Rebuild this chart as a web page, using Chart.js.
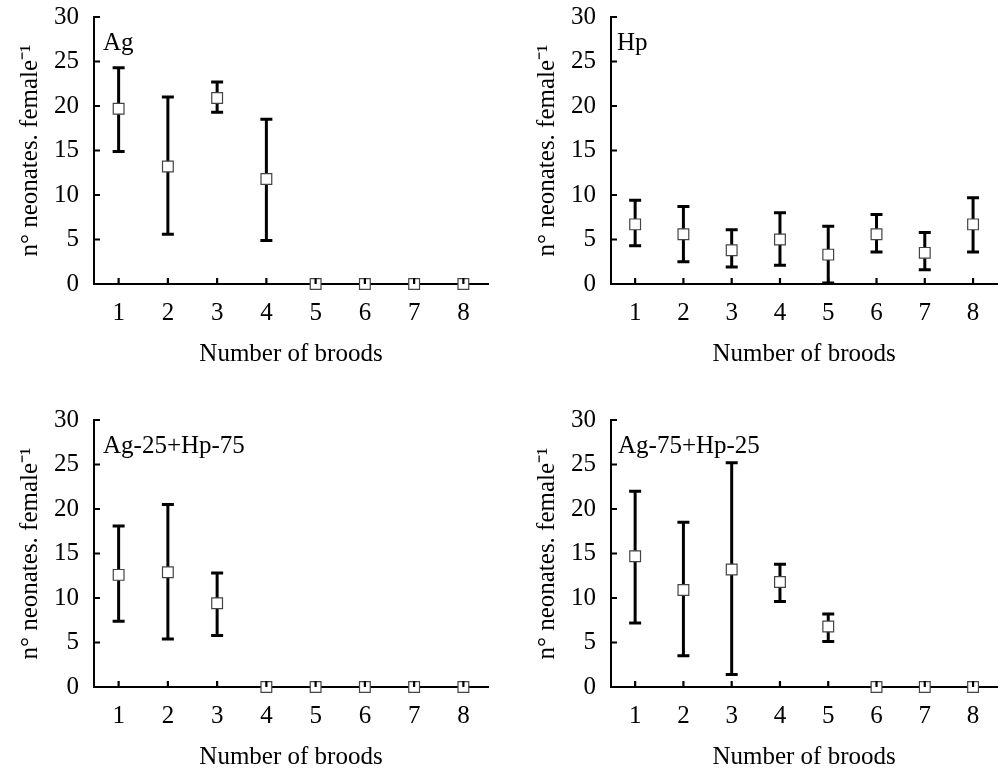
<!DOCTYPE html>
<html>
<head>
<meta charset="utf-8">
<script src="https://cdn.jsdelivr.net/npm/chart.js@4"></script>
<style>
  html, body { margin: 0; padding: 0; background: #fff; overflow: hidden; }
  #wrap { position: relative; width: 1006px; height: 770px; }
  canvas { position: absolute; }
</style>
</head>
<body>
<div id="wrap">
  <canvas id="pAg" width="500" height="385" style="left:0;top:0"></canvas>
  <canvas id="pHp" width="489" height="385" style="left:517px;top:0"></canvas>
  <canvas id="pMix1" width="500" height="385" style="left:0;top:403px"></canvas>
  <canvas id="pMix2" width="489" height="385" style="left:517px;top:403px"></canvas>
</div>
<script>
// dados
const broods = ['1', '2', '3', '4', '5', '6', '7', '8'];
const yTicks = [0, 5, 10, 15, 20, 25, 30];

const agMean = [19.7, 13.2, 20.9, 11.8, 0, 0, 0, 0];
const agLow  = [14.9, 5.6, 19.3, 4.9, null, null, null, null];
const agHigh = [24.3, 21.0, 22.7, 18.5, null, null, null, null];

const hpMean = [6.7, 5.6, 3.8, 5.0, 3.3, 5.6, 3.5, 6.7];
const hpLow  = [4.3, 2.5, 1.9, 2.1, 0.1, 3.6, 1.6, 3.6];
const hpHigh = [9.4, 8.7, 6.1, 8.0, 6.5, 7.8, 5.8, 9.7];

const mix1Mean = [12.6, 12.9, 9.4, 0, 0, 0, 0, 0];
const mix1Low  = [7.4, 5.4, 5.8, null, null, null, null, null];
const mix1High = [18.1, 20.5, 12.8, null, null, null, null, null];

const mix2Mean = [14.7, 10.9, 13.2, 11.8, 6.8, 0, 0, 0];
const mix2Low  = [7.2, 3.5, 1.4, 9.6, 5.1, null, null, null];
const mix2High = [22.0, 18.5, 25.2, 13.8, 8.2, null, null, null];

const serif = "'Liberation Serif', 'Times New Roman', serif";

// barras de erro, marcas dos eixos e rotulo do painel
const errBars = {
  id: 'errBars',
  beforeDatasetsDraw(chart, args, opts) {
    const ctx = chart.ctx;
    const x = chart.scales.x, y = chart.scales.y;
    ctx.save();
    ctx.strokeStyle = '#000';
    ctx.lineWidth = 3;
    opts.low.forEach((lo, i) => {
      const hi = opts.high[i];
      if (lo == null || hi == null) return;
      const px = x.getPixelForValue(i);
      const y1 = y.getPixelForValue(lo), y2 = y.getPixelForValue(hi);
      ctx.beginPath();
      ctx.moveTo(px, y1); ctx.lineTo(px, y2);
      ctx.moveTo(px - 6, y1); ctx.lineTo(px + 6, y1);
      ctx.moveTo(px - 6, y2); ctx.lineTo(px + 6, y2);
      ctx.stroke();
    });
    ctx.restore();
  },
  afterDatasetsDraw(chart, args, opts) {
    const ctx = chart.ctx;
    const x = chart.scales.x, y = chart.scales.y;
    const area = chart.chartArea;
    ctx.save();
    ctx.strokeStyle = '#000';
    ctx.lineWidth = 2.2;
    ctx.beginPath();
    x.ticks.forEach((t, i) => {
      const px = x.getPixelForTick(i);
      ctx.moveTo(px, area.bottom); ctx.lineTo(px, area.bottom - 6);
    });
    y.ticks.forEach((t, i) => {
      const py = y.getPixelForTick(i);
      ctx.moveTo(area.left, py); ctx.lineTo(area.left + 6, py);
    });
    ctx.stroke();
    ctx.fillStyle = '#000';
    ctx.font = '25px ' + serif;
    ctx.textBaseline = 'alphabetic';
    ctx.fillText(opts.label, area.left + opts.dx, area.top + 33);
    ctx.restore();
  }
};

function makePanel(id, mean, low, high, label, padRight, dx) {
  const config = {
    type: 'line',
    data: {
      labels: broods,
      datasets: [{
        data: mean,
        showLine: false,
        pointStyle: 'rect',
        pointRadius: 7.6,
        pointHoverRadius: 7.6,
        pointBackgroundColor: '#fff',
        pointBorderColor: '#444',
        pointBorderWidth: 1.2,
        clip: false
      }]
    },
    options: {
      responsive: false,
      animation: false,
      layout: { padding: { top: 17, right: padRight, left: 0, bottom: 0 } },
      scales: {
        x: {
          type: 'category',
          offset: true,
          grid: { display: false },
          border: { display: true, color: '#000', width: 2 },
          ticks: { color: '#000', padding: 6, font: { size: 25, family: serif } },
          title: {
            display: true,
            text: 'Number of broods',
            color: '#000',
            font: { size: 25, family: serif },
            padding: { top: 0, bottom: 16 }
          },
          afterFit: s => { s.height = 101; }
        },
        y: {
          min: 0,
          max: 30,
          afterBuildTicks: s => { s.ticks = yTicks.map(v => ({ value: v })); },
          grid: { display: false },
          border: { display: true, color: '#000', width: 2 },
          ticks: { color: '#000', padding: 7, font: { size: 25, family: serif, lineHeight: 1 } },
          title: {
            display: true,
            text: 'n° neonates. female⁻¹',
            color: '#000',
            font: { size: 25, family: serif },
            padding: { top: 15, bottom: 0 }
          },
          afterFit: s => { s.width = 94; s.paddingTop = 0; s.paddingBottom = 0; }
        }
      },
      plugins: {
        legend: { display: false },
        tooltip: { enabled: false },
        errBars: { low: low, high: high, label: label, dx: dx }
      }
    },
    plugins: [errBars]
  };
  return new Chart(document.getElementById(id).getContext('2d'), config);
}

makePanel('pAg', agMean, agLow, agHigh, 'Ag', 12, 9);
makePanel('pHp', hpMean, hpLow, hpHigh, 'Hp', 0, 6);
makePanel('pMix1', mix1Mean, mix1Low, mix1High, 'Ag-25+Hp-75', 12, 9);
makePanel('pMix2', mix2Mean, mix2Low, mix2High, 'Ag-75+Hp-25', 0, 7);
</script>
</body>
</html>
